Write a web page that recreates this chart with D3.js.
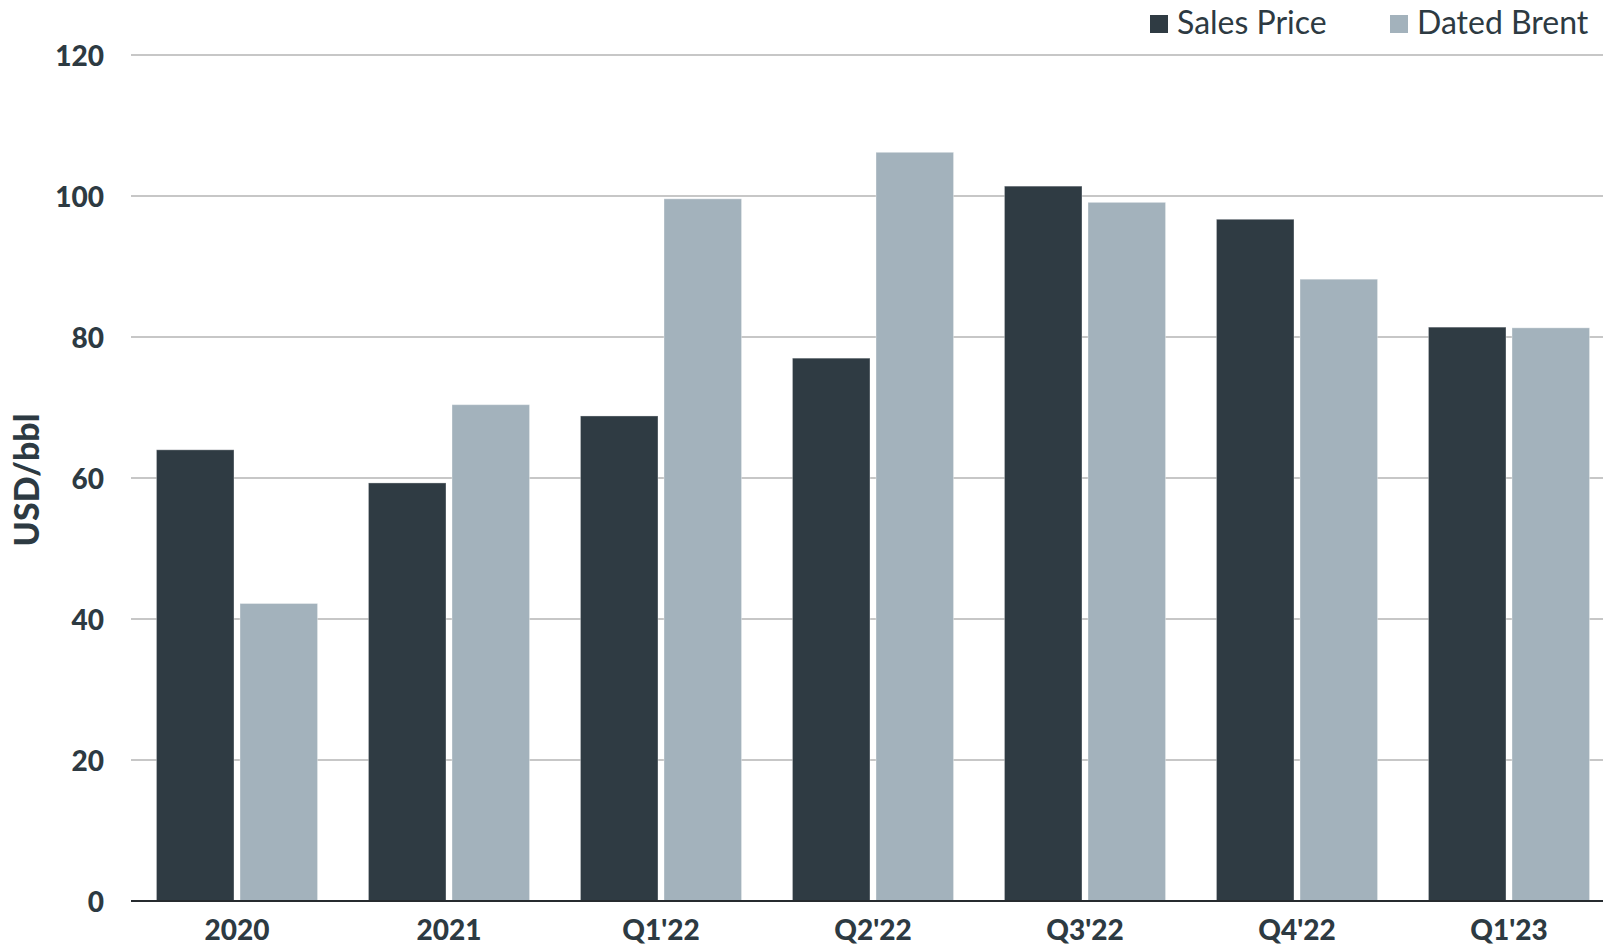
<!DOCTYPE html>
<html>
<head>
<meta charset="utf-8">
<script src="https://cdn.jsdelivr.net/npm/d3@7"></script>
<style>
  html, body { margin: 0; padding: 0; background: #fff; }
  svg { display: block; }
  text { font-family: Lato, "Noto Sans", sans-serif; fill: #2d3a42; }
</style>
</head>
<body>
<svg id="chart" width="1603" height="946"></svg>
<script>
// Realised sales price vs Dated Brent, USD/bbl
const categories = ["2020", "2021", "Q1'22", "Q2'22", "Q3'22", "Q4'22", "Q1'23"];
const salesPrice = [64.0, 59.3, 68.8, 77.0, 101.4, 96.7, 81.4];
const datedBrent = [42.2, 70.4, 99.6, 106.2, 99.1, 88.2, 81.3];
const yTicks = [0, 20, 40, 60, 80, 100, 120];
const seriesNames = ["Sales Price", "Dated Brent"];
const seriesColors = ["#2f3b43", "#a3b2bc"];

const svg = d3.select("#chart");
const W = 1603;

const x0 = d3.scaleBand()
  .domain(categories)
  .range([131, 1615])
  .paddingInner(0.24)
  .paddingOuter(0.12);

const x1 = d3.scaleBand()
  .domain(seriesNames)
  .range([0, x0.bandwidth()])
  .paddingInner(0.072);

const y = d3.scaleLinear().domain([0, 120]).range([901, 55]);

// horizontal gridlines
svg.append("g")
  .selectAll("line")
  .data(yTicks.filter(d => d !== 0))
  .join("line")
  .attr("x1", 131).attr("x2", W)
  .attr("y1", d => y(d)).attr("y2", d => y(d))
  .attr("stroke", "#b4b4b4")
  .attr("stroke-width", 1.3);

// y axis labels
const yAxis = d3.axisLeft(y).tickValues(yTicks).tickSize(0).tickPadding(0);
svg.append("g")
  .attr("transform", "translate(104,0)")
  .call(yAxis)
  .call(g => g.select(".domain").remove())
  .selectAll("text")
  .attr("font-family", "Lato, 'Noto Sans', sans-serif")
  .attr("font-size", 28)
  .attr("font-weight", 900)
  .attr("fill", "#2d3a42")
  .attr("dy", "0.36em");

// bars
const rows = categories.map((c, i) => ({ cat: c, vals: [salesPrice[i], datedBrent[i]] }));
const groups = svg.append("g")
  .selectAll("g")
  .data(rows)
  .join("g")
  .attr("transform", d => `translate(${x0(d.cat)},0)`);

groups.selectAll("rect")
  .data(d => d.vals.map((v, k) => ({ key: seriesNames[k], v, k })))
  .join("rect")
  .attr("x", d => x1(d.key))
  .attr("width", x1.bandwidth())
  .attr("y", d => y(d.v))
  .attr("height", d => y(0) - y(d.v))
  .attr("fill", d => seriesColors[d.k])
  .attr("stroke", "rgba(255,255,255,0.35)")
  .attr("stroke-width", 1);

// baseline
svg.append("line")
  .attr("x1", 131).attr("x2", W)
  .attr("y1", y(0)).attr("y2", y(0))
  .attr("stroke", "#262b2f")
  .attr("stroke-width", 2.2);

// x axis labels
const xAxis = d3.axisBottom(x0).tickSize(0).tickPadding(0);
svg.append("g")
  .attr("transform", "translate(0,931)")
  .call(xAxis)
  .call(g => g.select(".domain").remove())
  .selectAll("text")
  .attr("font-family", "Lato, 'Noto Sans', sans-serif")
  .attr("font-size", 28)
  .attr("font-weight", 900)
  .attr("fill", "#2d3a42")
  .attr("dy", "0.32em");

// y axis title
svg.append("text")
  .attr("transform", "translate(39,480) rotate(-90)")
  .attr("text-anchor", "middle")
  .attr("font-size", 34)
  .attr("font-weight", 900)
  .text("USD/bbl");

// legend
const legendX = [1150, 1390];
const legend = svg.append("g")
  .selectAll("g")
  .data(seriesNames)
  .join("g")
  .attr("transform", (d, i) => `translate(${legendX[i]},0)`);
legend.append("rect")
  .attr("x", 0).attr("y", 15)
  .attr("width", 18).attr("height", 18)
  .attr("fill", (d, i) => seriesColors[i]);
legend.append("text")
  .attr("x", 27).attr("y", 34)
  .attr("font-size", 32)
  .attr("fill", "#3a454c")
  .text(d => d);
</script>
</body>
</html>
